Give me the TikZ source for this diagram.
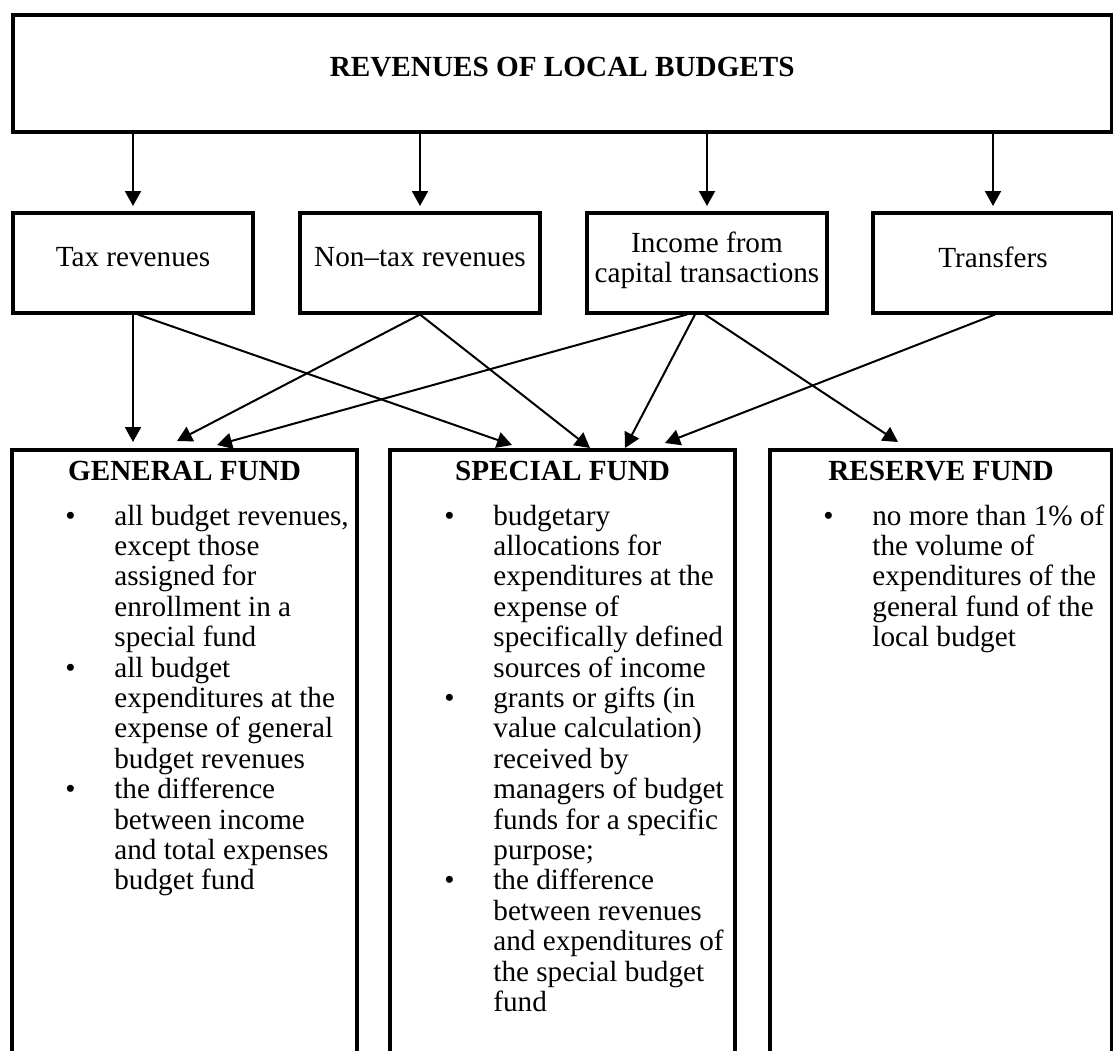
\documentclass[tikz,border=0pt]{standalone}
\usepackage{fontspec}
\setmainfont{Liberation Serif}
\usetikzlibrary{arrows.meta}
\newcommand{\fundbul}{\makebox[24.5pt][l]{\textbullet}}

\begin{document}
\begin{tikzpicture}[x=0.5pt, y=-0.5pt,
    font=\fontsize{14.6pt}{15.2pt}\selectfont,
    box/.style={draw, line width=2pt, inner sep=0pt, text depth=5.7pt},
    revbox/.style={box, minimum width=120pt, minimum height=49.75pt, align=center},
    fundbox/.style={draw, line width=2pt, minimum height=310pt},
    fundtitle/.style={font=\fontsize{14.6pt}{15.2pt}\selectfont\bfseries, anchor=base},
    fundlist/.style={inner sep=0pt, anchor=base west},
    arr/.style={line width=1pt, -{Triangle[width=8pt,length=7.5pt]}}]
    \useasboundingbox (0,0) rectangle (1113,1050);

    \node (budget) [box, minimum width=549.75pt, minimum height=58.5pt, font=\fontsize{14.6pt}{15.2pt}\selectfont\bfseries] at (562.25,73) {REVENUES OF LOCAL BUDGETS};

    \node (tax) [revbox] at (133,262.75) {Tax revenues};
    \node (nontax) [revbox] at (420,262.75) {Non--tax revenues};
    \node (income) [revbox] at (707,262.75) {Income from\\capital transactions};
    \node (transfers) [revbox] at (993,262.75) {Transfers};

    \foreach \n in {tax,nontax,income,transfers}
        \draw[arr] (\n.north |- budget.south) -- ([yshift=2.5pt]\n.north);

    \node (gen) [fundbox, minimum width=172.5pt] at (184.5,760) {};
    \node (spec) [fundbox, minimum width=172.5pt] at (562.5,760) {};
    \node (res) [fundbox, minimum width=171pt] at (941,760) {};

    \node (gentitle) [fundtitle] at (184.5,480) {GENERAL FUND};
    \node (spectitle) [fundtitle] at (562.5,480) {SPECIAL FUND};
    \node (restitle) [fundtitle] at (941,480) {RESERVE FUND};

    \node (genlist) [fundlist] at (65,525) {\begin{tabular}[t]{@{}l@{}l@{}}
        \fundbul & all budget revenues,\\
        & except those\\
        & assigned for\\
        & enrollment in a\\
        & special fund\\
        \fundbul & all budget\\
        & expenditures at the\\
        & expense of general\\
        & budget revenues\\
        \fundbul & the difference\\
        & between income\\
        & and total expenses\\
        & budget fund
    \end{tabular}};
    \node (speclist) [fundlist] at (444,525) {\begin{tabular}[t]{@{}l@{}l@{}}
        \fundbul & budgetary\\
        & allocations for\\
        & expenditures at the\\
        & expense of\\
        & specifically defined\\
        & sources of income\\
        \fundbul & grants or gifts (in\\
        & value calculation)\\
        & received by\\
        & managers of budget\\
        & funds for a specific\\
        & purpose;\\
        \fundbul & the difference\\
        & between revenues\\
        & and expenditures of\\
        & the special budget\\
        & fund
    \end{tabular}};
    \node (reslist) [fundlist] at (823,525) {\begin{tabular}[t]{@{}l@{}l@{}}
        \fundbul & no more than 1\% of\\
        & the volume of\\
        & expenditures of the\\
        & general fund of the\\
        & local budget
    \end{tabular}};

    \coordinate (gen1) at (133,442);
    \coordinate (gen2) at (177,441);
    \coordinate (gen3) at (217,445);
    \coordinate (spec1) at (512,445);
    \coordinate (spec2) at (590,448);
    \coordinate (spec3) at (625,448);
    \coordinate (spec4) at (665,443);
    \coordinate (res1) at (898,442);

    \draw[arr] (tax.south) -- (gen1);
    \draw[arr] ([xshift=2.5pt]tax.south) -- (spec1);
    \draw[arr] (nontax.south) -- (gen2);
    \draw[arr] (nontax.south) -- (spec2);
    \draw[arr] ([xshift=-10pt]income.south) -- (gen3);
    \draw[arr] ([xshift=-6pt]income.south) -- (spec3);
    \draw[arr] ([xshift=-1pt]income.south) -- (res1);
    \draw[arr] ([xshift=1pt]transfers.south) -- (spec4);
\end{tikzpicture}
\end{document}
